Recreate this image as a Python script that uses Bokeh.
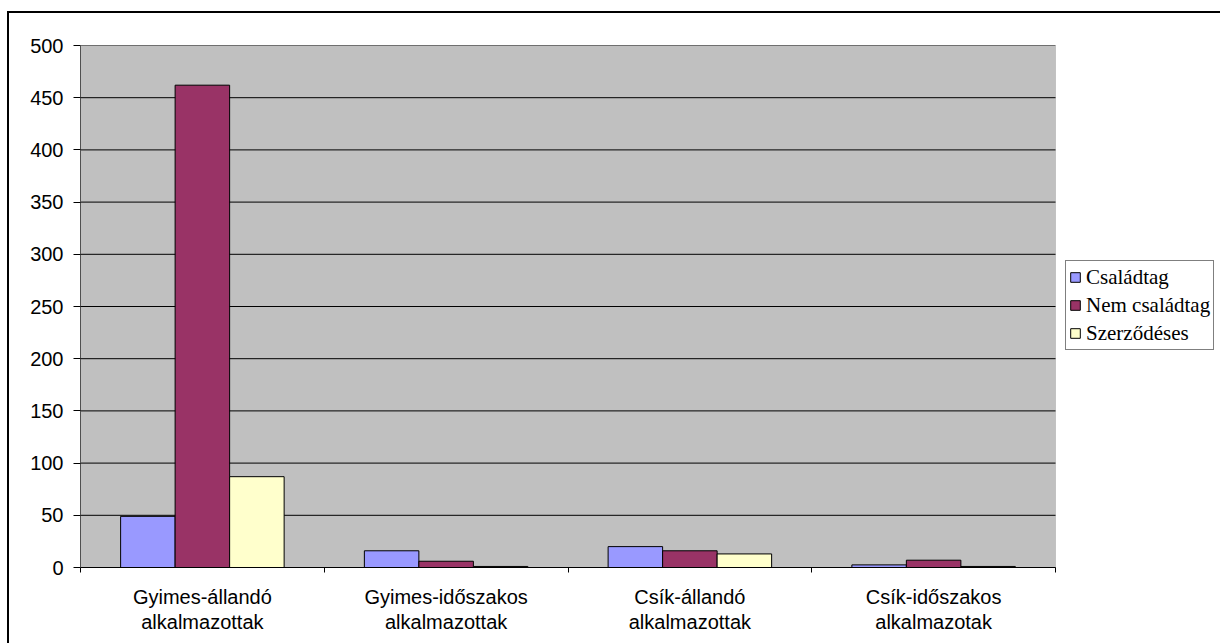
from bokeh.plotting import figure
from bokeh.models import (ColumnDataSource, Range1d, FixedTicker, Legend, LegendItem,
                          BoxAnnotation, InlineStyleSheet)
from bokeh.transform import dodge
from bokeh.embed import file_html
from bokeh.resources import INLINE

categories = ["Gyimes-állandó\nalkalmazottak", "Gyimes-időszakos\nalkalmazottak",
              "Csík-állandó\nalkalmazottak", "Csík-időszakos\nalkalmazotak"]
series_names = ["Családtag", "Nem családtag", "Szerződéses"]
csaladtag = [49, 16, 20, 2.5]
nem_csaladtag = [462, 6, 16, 7]
szerzodeses = [87, 1, 13, 1]
y_ticks = [0, 50, 100, 150, 200, 250, 300, 350, 400, 450, 500]
colors = ["#9999FF", "#993366", "#FFFFCC"]

n_cat = len(categories)
y_max = y_ticks[-1]
centers = [i + 0.5 for i in range(n_cat)]
src = ColumnDataSource(dict(x=centers, c=csaladtag, n=nem_csaladtag, s=szerzodeses))
grid_src = ColumnDataSource(dict(x0=[0] * len(y_ticks), x1=[n_cat] * len(y_ticks), y=y_ticks))

W, H = 1220, 643
# plot area spans 0..n_cat (975 px); the frame extends further right to hold the legend
p = figure(width=W, height=H, output_backend="svg", toolbar_location=None,
           x_range=Range1d(0, n_cat * (W - 80) / 975), y_range=Range1d(0, y_max),
           min_border_left=80, min_border_right=0, min_border_top=45, min_border_bottom=76)
p.background_fill_color = "white"
p.border_fill_alpha = 0
p.outline_line_color = None
# outer chart border (left and top edges; right/bottom lie outside the picture)
p.stylesheets = [InlineStyleSheet(css="""
:host { position: relative; }
:host::before {
  content: "";
  position: absolute;
  left: 7px; top: 11px; right: 0px; bottom: 0px;
  border-left: 2px solid #000;
  border-top: 2px solid #000;
  pointer-events: none;
  z-index: 0;
}
""")]

area = BoxAnnotation(left=0, right=n_cat, bottom=0, top=y_max,
                     fill_color="#C0C0C0", fill_alpha=1,
                     line_color="#808080", line_width=1, level="underlay")
p.add_layout(area)

p.segment(x0="x0", x1="x1", y0="y", y1="y", source=grid_src, line_color="black", line_width=1)

bw = 0.2236
renderers = []
for col, off, color in zip(["c", "n", "s"], [-bw, 0, bw], colors):
    r = p.vbar(x=dodge("x", off), top=col, width=bw, source=src,
               fill_color=color, line_color="black", line_width=1)
    renderers.append(r)

# axes
p.yaxis.ticker = FixedTicker(ticks=y_ticks)
p.yaxis.axis_line_color = "#505050"
p.yaxis.major_tick_line_color = "black"
p.yaxis.major_tick_out = 7
p.yaxis.major_tick_in = 0
p.yaxis.minor_tick_line_color = None
p.yaxis.major_label_standoff = 10
p.yaxis.major_label_text_font = "Liberation Sans"
p.yaxis.major_label_text_font_size = "20px"
p.yaxis.major_label_text_color = "black"

p.xaxis.ticker = FixedTicker(ticks=centers, minor_ticks=list(range(n_cat + 1)))
p.xaxis.bounds = (0, n_cat)
p.xaxis.major_label_overrides = {c: lab for c, lab in zip(centers, categories)}
p.xaxis.axis_line_color = "black"
p.xaxis.major_tick_line_color = None
p.xaxis.major_tick_out = 5
p.xaxis.major_tick_in = 0
p.xaxis.minor_tick_line_color = "black"
p.xaxis.minor_tick_out = 5
p.xaxis.minor_tick_in = 0
p.xaxis.major_label_standoff = 13
p.xaxis.major_label_text_font = "Liberation Sans"
p.xaxis.major_label_text_font_size = "20px"
p.xaxis.major_label_text_line_height = 1.15
p.xaxis.major_label_text_color = "black"

p.xgrid.grid_line_color = None
p.ygrid.grid_line_color = None

legend = Legend(items=[LegendItem(label=n, renderers=[r]) for n, r in zip(series_names, renderers)],
                location=(985, 217), orientation="vertical",
                label_text_font="Liberation Serif", label_text_font_size="21px",
                label_text_color="black",
                glyph_width=12, glyph_height=12, label_height=26, spacing=2, padding=3,
                label_standoff=5, margin=0,
                border_line_color="black", border_line_width=1,
                background_fill_color="white", background_fill_alpha=1)
p.add_layout(legend, "center")

open("out.html", "w").write(file_html(p, INLINE))
